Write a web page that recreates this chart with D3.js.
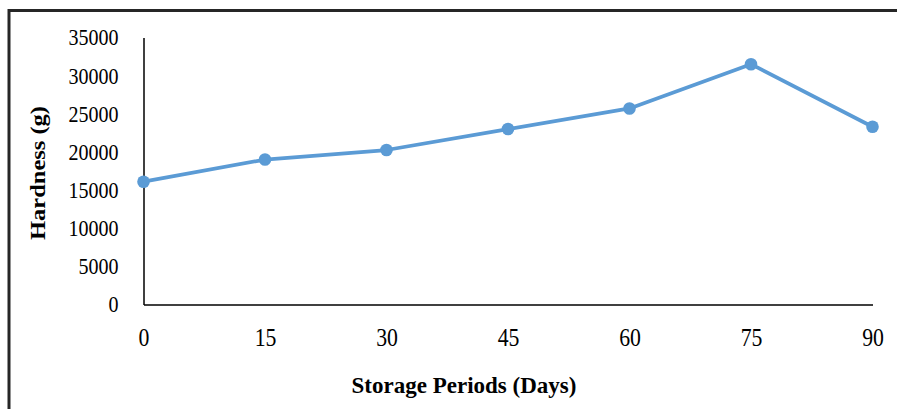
<!DOCTYPE html>
<html>
<head>
<meta charset="utf-8">
<script src="https://cdn.jsdelivr.net/npm/d3@7"></script>
<style>
  html, body { margin: 0; padding: 0; background: #fff; }
  svg { display: block; }
  text { font-family: "Liberation Serif", "Times New Roman", serif; fill: #000; }
</style>
</head>
<body>
<svg id="chart" width="897" height="409"></svg>
<script>
// ---- data ----
const days = [0, 15, 30, 45, 60, 75, 90];
const hardness = [16100, 19000, 20250, 23000, 25700, 31500, 23300];
const yTicks = [0, 5000, 10000, 15000, 20000, 25000, 30000, 35000];
const xTicks = [0, 15, 30, 45, 60, 75, 90];
const xTitle = "Storage Periods (Days)";
const yTitle = "Hardness (g)";

const svg = d3.select("#chart");
const lineColor = "#5B9BD5";

// outer frame (only top and left edges visible)
svg.append("rect")
  .attr("x", 9).attr("y", 10.5)
  .attr("width", 1000).attr("height", 1000)
  .attr("fill", "none").attr("stroke", "#262626").attr("stroke-width", 3);

const x = d3.scaleLinear().domain([0, 90]).range([143.5, 872.5]);
const y = d3.scaleLinear().domain([0, 35000]).range([304.5, 37.5]);

// y axis
const ySx = 0.87;
const gy = svg.append("g").attr("transform", `translate(${x(0)},0)`)
  .call(d3.axisLeft(y).tickValues(yTicks).tickSize(0).tickPadding(25).tickFormat(d3.format("d")));
gy.select(".domain").attr("stroke", "#000").attr("stroke-width", 1.5);
gy.selectAll(".tick text")
  .attr("font-family", "Liberation Serif").attr("font-size", 23)
  .attr("dy", null).attr("dominant-baseline", "central")
  .attr("x", -25 / ySx)
  .attr("transform", `scale(${ySx},1)`);

// x axis
const xSx = 0.87;
const gx = svg.append("g").attr("transform", `translate(0,${y(0)})`)
  .call(d3.axisBottom(x).tickValues(xTicks).tickSize(0).tickFormat(d3.format("d")));
gx.select(".domain").attr("stroke", "#000").attr("stroke-width", 1.5);
gx.selectAll(".tick text")
  .attr("font-family", "Liberation Serif").attr("font-size", 25)
  .attr("y", 33).attr("dy", null).attr("dominant-baseline", "central")
  .attr("transform", `scale(${xSx},1)`);

// series line
const line = d3.line().x((d, i) => x(days[i])).y(d => y(d));
svg.append("path")
  .datum(hardness)
  .attr("d", line)
  .attr("fill", "none")
  .attr("stroke", lineColor)
  .attr("stroke-width", 3.75)
  .attr("stroke-linejoin", "round");

svg.selectAll("circle.pt")
  .data(hardness)
  .enter().append("circle")
  .attr("class", "pt")
  .attr("cx", (d, i) => x(days[i]))
  .attr("cy", d => y(d))
  .attr("r", 6.3)
  .attr("fill", lineColor);

// axis titles
svg.append("text")
  .attr("transform", `translate(464,393)`)
  .attr("text-anchor", "middle")
  .attr("font-weight", "bold")
  .attr("font-size", 23)
  .text(xTitle);

svg.append("text")
  .attr("transform", `translate(45,173) rotate(-90) scale(1,0.85)`)
  .attr("text-anchor", "middle")
  .attr("font-weight", "bold")
  .attr("font-size", 24.5)
  .text(yTitle);
</script>
</body>
</html>
